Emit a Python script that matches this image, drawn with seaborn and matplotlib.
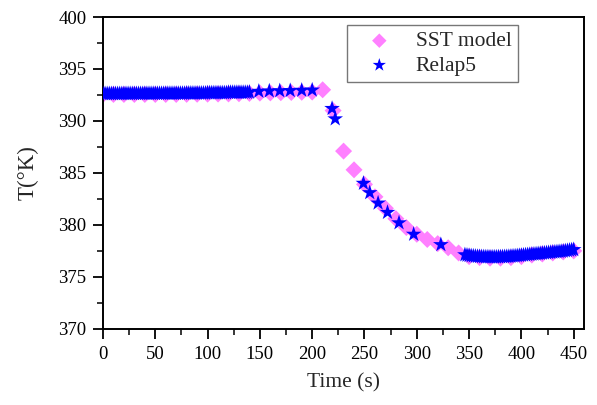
import numpy as np
import pandas as pd
import matplotlib
matplotlib.use("Agg")
import matplotlib.pyplot as plt
import seaborn as sns
from matplotlib.ticker import MultipleLocator

# ---- data ----
sst_time = np.arange(0, 451, 10)
sst_temp = [392.55, 392.55, 392.55, 392.55, 392.55, 392.55, 392.55, 392.55,
            392.56, 392.57, 392.58, 392.59, 392.60, 392.62,
            392.65, 392.68, 392.70, 392.72, 392.74, 392.76, 392.78,
            393.0, 391.0, 387.1, 385.3, 383.9, 382.7, 381.6, 380.6, 379.75,
            379.1, 378.6, 378.2, 377.8, 377.3, 376.95, 376.85, 376.8, 376.8,
            376.85, 376.95, 377.1, 377.2, 377.3, 377.4, 377.5]

relap_time_a = np.arange(0, 141, 2)
relap_temp_a = [392.62, 392.62, 392.62, 392.62, 392.62, 392.62, 392.62, 392.62, 392.62, 392.62,
                392.63, 392.63, 392.63, 392.63, 392.63, 392.63, 392.63, 392.63, 392.63, 392.63,
                392.64, 392.64, 392.64, 392.64, 392.64, 392.64, 392.64, 392.64, 392.64, 392.64,
                392.65, 392.65, 392.65, 392.65, 392.65, 392.65, 392.65, 392.65, 392.65, 392.65,
                392.67, 392.67, 392.67, 392.67, 392.67, 392.67, 392.67, 392.67, 392.67, 392.67,
                392.70, 392.70, 392.70, 392.70, 392.70, 392.70, 392.70, 392.70, 392.70, 392.70,
                392.74, 392.74, 392.74, 392.74, 392.74, 392.74, 392.74, 392.74, 392.74, 392.74,
                392.76]

relap_time_b = [149, 159, 169, 179, 190, 200, 219, 222, 249, 255, 263, 272, 283, 297, 323]
relap_temp_b = [392.85, 392.88, 392.90, 392.92, 392.95, 392.97, 391.2, 390.2,
                384.0, 383.1, 382.1, 381.2, 380.2, 379.1, 378.1]

relap_time_c = np.arange(346, 451, 2)
relap_temp_c = [377.12, 377.08, 377.05, 377.02, 377.00, 376.98, 376.96, 376.95, 376.94, 376.93,
                376.92, 376.92, 376.91, 376.91, 376.91, 376.91, 376.92, 376.92, 376.93, 376.94,
                376.95, 376.96, 376.98, 377.00, 377.01, 377.03, 377.05, 377.07, 377.09, 377.11,
                377.13, 377.15, 377.17, 377.19, 377.21, 377.23, 377.25, 377.27, 377.29, 377.31,
                377.33, 377.35, 377.37, 377.39, 377.41, 377.43, 377.45, 377.47, 377.50, 377.53,
                377.56, 377.59, 377.62]

x_ticks = [0, 50, 100, 150, 200, 250, 300, 350, 400, 450]
y_ticks = [370, 375, 380, 385, 390, 395, 400]

sst_df = pd.DataFrame({"t": sst_time, "T": sst_temp})
relap_df = pd.DataFrame({
    "t": np.concatenate([relap_time_a, relap_time_b, relap_time_c]),
    "T": np.concatenate([relap_temp_a, relap_temp_b, relap_temp_c]),
})

# ---- style ----
sns.set_style("ticks")
plt.rcParams["font.family"] = ["Liberation Serif", "DejaVu Serif"]
plt.rcParams["mathtext.fontset"] = "stix"

fig = plt.figure(figsize=(5.97, 4.05), dpi=100)
ax = fig.add_axes([0.1725, 0.188, 0.806, 0.770])

sns.scatterplot(data=sst_df, x="t", y="T", ax=ax, marker="D", s=75,
                color="#FF80FF", edgecolor="none", label="SST model", zorder=2)
sns.scatterplot(data=relap_df, x="t", y="T", ax=ax, marker="*", s=140,
                color="#0000FF", edgecolor="none", label="Relap5", zorder=3)

ax.set_xlim(0, 460)
ax.set_ylim(370, 400)
ax.set_xticks(x_ticks)
ax.set_yticks(y_ticks)
ax.xaxis.set_minor_locator(MultipleLocator(25))
ax.yaxis.set_minor_locator(MultipleLocator(2.5))
ax.tick_params(which="major", direction="out", length=7, width=1.3,
               labelsize=13.5, colors="black", pad=5)
ax.tick_params(which="minor", direction="out", length=4, width=1.3)
for s in ax.spines.values():
    s.set_linewidth(1.4)
    s.set_color("black")

ax.set_xlabel("Time (s)", fontsize=15.5, labelpad=8)
ax.set_ylabel("T(°K)", fontsize=16.5, labelpad=14)

leg = ax.legend(loc="upper right", bbox_to_anchor=(0.863, 0.975), borderaxespad=0,
                fontsize=15.5, frameon=True, fancybox=False, edgecolor="#555555",
                handletextpad=0.5, borderpad=0.3, labelspacing=0.2,
                handlelength=2.4, markerscale=0.85)
leg.get_frame().set_linewidth(1.0)

fig.savefig("out.png", dpi=100)
